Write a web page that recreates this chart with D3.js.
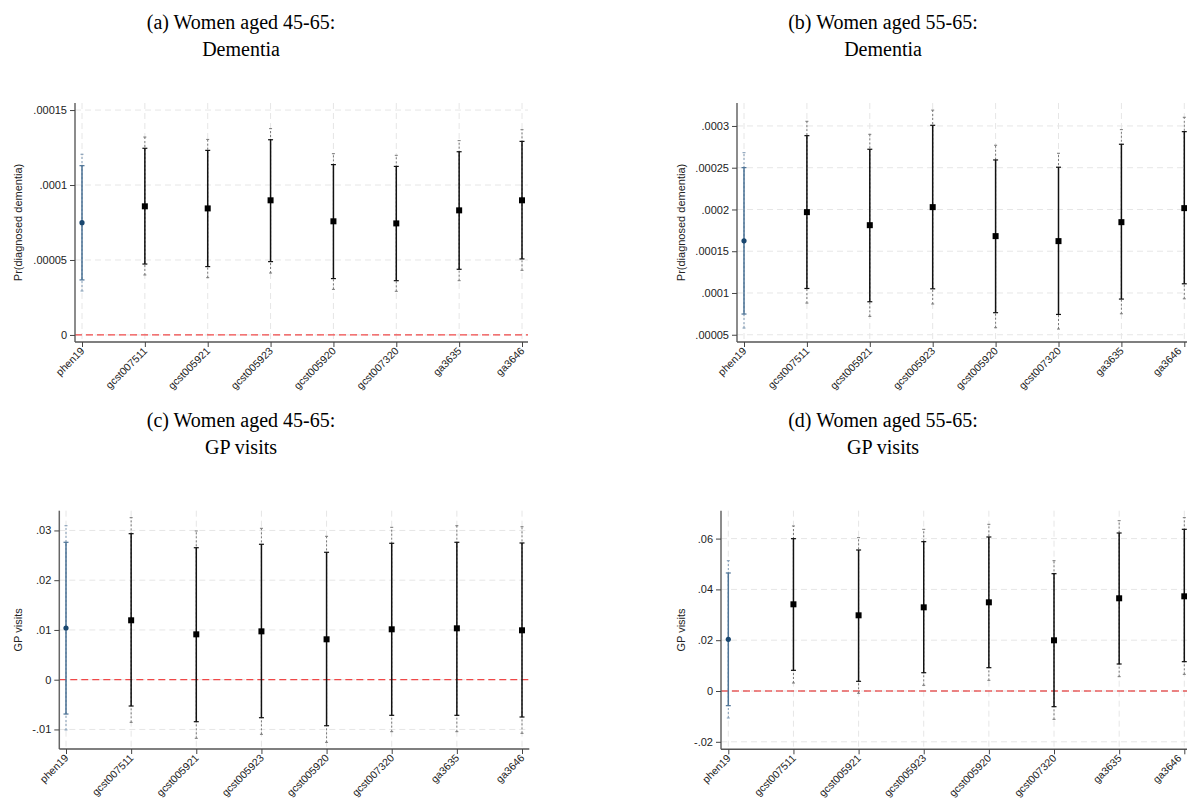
<!DOCTYPE html>
<html>
<head>
<meta charset="utf-8">
<script src="https://cdn.jsdelivr.net/npm/d3@7"></script>
<style>
  body { margin: 0; background: #fff; }
  svg { display: block; }
  .title { font-family: "Liberation Serif", "Times New Roman", serif; font-size: 20px; fill: #000; }
  .tick-label { font-family: "Liberation Sans", Arial, sans-serif; font-size: 11px; fill: #222; }
  .xtick-label { font-family: "Liberation Sans", Arial, sans-serif; font-size: 10.5px; fill: #222; }
  .axis-label { font-family: "Liberation Sans", Arial, sans-serif; font-size: 11px; fill: #222; }
</style>
</head>
<body>
<svg id="chart" width="1187" height="800"></svg>
<script>
const categories = ["phen19", "gcst007511", "gcst005921", "gcst005923", "gcst005920", "gcst007320", "ga3635", "ga3646"];

// (a) women 45-65, dementia
const demYoungEst = [7.49e-5, 8.58e-5, 8.44e-5, 8.98e-5, 7.58e-5, 7.44e-5, 8.31e-5, 8.98e-5];
const demYoungLo = [3.67e-5, 4.73e-5, 4.56e-5, 4.89e-5, 3.76e-5, 3.62e-5, 4.38e-5, 5.07e-5];
const demYoungHi = [1.129e-4, 1.245e-4, 1.231e-4, 1.302e-4, 1.136e-4, 1.124e-4, 1.222e-4, 1.291e-4];
const demYoungLoW = [2.93e-5, 4.0e-5, 3.82e-5, 4.13e-5, 3.04e-5, 2.91e-5, 3.62e-5, 4.31e-5];
const demYoungHiW = [1.205e-4, 1.32e-4, 1.304e-4, 1.376e-4, 1.209e-4, 1.198e-4, 1.296e-4, 1.369e-4];

// (b) women 55-65, dementia
const demOldEst = [1.624e-4, 1.968e-4, 1.812e-4, 2.028e-4, 1.681e-4, 1.621e-4, 1.848e-4, 2.016e-4];
const demOldLo = [7.48e-5, 1.054e-4, 8.95e-5, 1.05e-4, 7.64e-5, 7.43e-5, 9.27e-5, 1.11e-4];
const demOldHi = [2.501e-4, 2.884e-4, 2.721e-4, 3.008e-4, 2.593e-4, 2.506e-4, 2.781e-4, 2.932e-4];
const demOldLoW = [5.8e-5, 8.79e-5, 7.2e-5, 8.68e-5, 5.84e-5, 5.68e-5, 7.51e-5, 9.3e-5];
const demOldHiW = [2.68e-4, 3.056e-4, 2.9e-4, 3.19e-4, 2.769e-4, 2.673e-4, 2.956e-4, 3.104e-4];

// (c) women 45-65, GP visits
const gpYoungEst = [0.01039, 0.01194, 0.00912, 0.00972, 0.00812, 0.01013, 0.01033, 0.00993];
const gpYoungLo = [-0.0069, -0.00529, -0.00844, -0.00764, -0.00925, -0.00716, -0.00716, -0.0075];
const gpYoungHi = [0.02762, 0.02935, 0.02653, 0.02722, 0.02561, 0.02742, 0.02762, 0.02748];
const gpYoungLoW = [-0.0101, -0.00857, -0.01178, -0.01098, -0.01259, -0.01045, -0.01045, -0.01078];
const gpYoungHiW = [0.03095, 0.03257, 0.0299, 0.03043, 0.02882, 0.03063, 0.03095, 0.03075];

// (d) women 55-65, GP visits
const gpOldEst = [0.02035, 0.03413, 0.0298, 0.03294, 0.03491, 0.01996, 0.0365, 0.03728];
const gpOldLo = [-0.00577, 0.00814, 0.00381, 0.0072, 0.00918, -0.00617, 0.01063, 0.01155];
const gpOldHi = [0.04646, 0.05997, 0.05551, 0.05879, 0.06063, 0.04619, 0.0622, 0.06365];
const gpOldLoW = [-0.01063, 0.00315, -0.0009, 0.00224, 0.0042, -0.01115, 0.00564, 0.00656];
const gpOldHiW = [0.0513, 0.06496, 0.06037, 0.06365, 0.06562, 0.0513, 0.06706, 0.06824];

const demYoungTicks = [0, 0.00005, 0.0001, 0.00015];
const demYoungTickLabels = ["0", ".00005", ".0001", ".00015"];
const demOldTicks = [0.00005, 0.0001, 0.00015, 0.0002, 0.00025, 0.0003];
const demOldTickLabels = [".00005", ".0001", ".00015", ".0002", ".00025", ".0003"];
const gpYoungTicks = [-0.01, 0, 0.01, 0.02, 0.03];
const gpYoungTickLabels = ["-.01", "0", ".01", ".02", ".03"];
const gpOldTicks = [-0.02, 0, 0.02, 0.04, 0.06];
const gpOldTickLabels = ["-.02", "0", ".02", ".04", ".06"];

const svg = d3.select("#chart");
const width = +svg.attr("width");

const panels = [
  {
    title: ["(a) Women aged 45-65:", "Dementia"], titleX: 241, titleY: 29,
    ylabel: "Pr(diagnosed dementia)", ylabelX: 18,
    left: 75, right: 528, top: 103, bottom: 342, catL: 82, catR: 522,
    domain: [-4.7e-6, 1.547e-4], ticks: demYoungTicks, tickLabels: demYoungTickLabels,
    est: demYoungEst, lo: demYoungLo, hi: demYoungHi, loW: demYoungLoW, hiW: demYoungHiW,
    zeroColor: "#f04848"
  },
  {
    title: ["(b) Women aged 55-65:", "Dementia"], titleX: 883, titleY: 29,
    ylabel: "Pr(diagnosed dementia)", ylabelX: 681,
    left: 737, right: 1192, top: 103, bottom: 342, catL: 744, catR: 1184.3,
    domain: [4.13e-5, 3.275e-4], ticks: demOldTicks, tickLabels: demOldTickLabels,
    est: demOldEst, lo: demOldLo, hi: demOldHi, loW: demOldLoW, hiW: demOldHiW,
    zeroColor: null
  },
  {
    title: ["(c) Women aged 45-65:", "GP visits"], titleX: 241, titleY: 427,
    ylabel: "GP visits", ylabelX: 18,
    left: 59.3, right: 529.3, top: 510.7, bottom: 749, catL: 66, catR: 522,
    domain: [-0.01393, 0.03397], ticks: gpYoungTicks, tickLabels: gpYoungTickLabels,
    est: gpYoungEst, lo: gpYoungLo, hi: gpYoungHi, loW: gpYoungLoW, hiW: gpYoungHiW,
    zeroColor: "#f04848"
  },
  {
    title: ["(d) Women aged 55-65:", "GP visits"], titleX: 883, titleY: 427,
    ylabel: "GP visits", ylabelX: 681,
    left: 721, right: 1192, top: 510.7, bottom: 749.3, catL: 728.3, catR: 1184.3,
    domain: [-0.02295, 0.07098], ticks: gpOldTicks, tickLabels: gpOldTickLabels,
    est: gpOldEst, lo: gpOldLo, hi: gpOldHi, loW: gpOldLoW, hiW: gpOldHiW,
    zeroColor: "#e01010"
  }
];

const drawPanel = (p) => {
  const g = svg.append("g");

  const x = d3.scalePoint().domain(categories).range([p.catL, p.catR]);
  const y = d3.scaleLinear().domain(p.domain).range([p.bottom, p.top]);

  // title
  g.append("text")
    .attr("class", "title")
    .attr("x", p.titleX)
    .attr("y", p.titleY)
    .attr("text-anchor", "middle")
    .selectAll("tspan")
    .data(p.title)
    .join("tspan")
    .attr("x", p.titleX)
    .attr("dy", (d, i) => (i === 0 ? 0 : 27))
    .text((d) => d);

  // grid
  g.append("g")
    .selectAll("line")
    .data(p.ticks)
    .join("line")
    .attr("x1", p.left)
    .attr("x2", p.right)
    .attr("y1", (d) => y(d))
    .attr("y2", (d) => y(d))
    .attr("stroke", "#e6e6e6")
    .attr("stroke-dasharray", "6,4");

  g.append("g")
    .selectAll("line")
    .data(categories)
    .join("line")
    .attr("x1", (d) => x(d))
    .attr("x2", (d) => x(d))
    .attr("y1", p.top)
    .attr("y2", p.bottom)
    .attr("stroke", "#e6e6e6")
    .attr("stroke-dasharray", "6,4");

  // zero reference line
  if (p.zeroColor) {
    g.append("line")
      .attr("x1", p.left)
      .attr("x2", p.right)
      .attr("y1", y(0))
      .attr("y2", y(0))
      .attr("stroke", p.zeroColor)
      .attr("stroke-width", 1.2)
      .attr("stroke-dasharray", "7,4");
  }

  // y axis
  const yAxis = d3
    .axisLeft(y)
    .tickValues(p.ticks)
    .tickFormat((d, i) => p.tickLabels[i])
    .tickSize(5)
    .tickPadding(3);
  const ya = g.append("g").attr("transform", `translate(${p.left},0)`).call(yAxis);
  ya.select(".domain").attr("d", `M0,${p.top}V${p.bottom}`).attr("stroke", "#666").attr("stroke-width", 1.5);
  ya.selectAll(".tick line").attr("stroke", "#444");
  ya.selectAll(".tick text").attr("class", "tick-label").attr("fill", "#222");

  // x axis
  const xAxis = d3.axisBottom(x).tickSize(5).tickPadding(3);
  const xa = g.append("g").attr("transform", `translate(0,${p.bottom})`).call(xAxis);
  xa.select(".domain").attr("d", `M${p.left},0H${p.right}`).attr("stroke", "#555").attr("stroke-width", 1.5);
  xa.selectAll(".tick line").attr("stroke", "#444");
  xa.selectAll(".tick text")
    .attr("class", "xtick-label")
    .attr("fill", "#222")
    .attr("text-anchor", "end")
    .attr("x", 0)
    .attr("y", 0)
    .attr("dy", "0.35em")
    .attr("transform", (d) => {
      // keep labels at the right edge inside the window
      const dx = Math.min(0, width - 8 - x(d));
      return `translate(${dx},7) rotate(-45)`;
    });

  // y axis label
  g.append("text")
    .attr("class", "axis-label")
    .attr("transform", `translate(${p.ylabelX},${(p.top + p.bottom) / 2}) rotate(-90)`)
    .attr("text-anchor", "middle")
    .attr("dy", "0.35em")
    .text(p.ylabel);

  const rows = categories.map((c, i) => ({
    cat: c, i, est: p.est[i], lo: p.lo[i], hi: p.hi[i], loW: p.loW[i], hiW: p.hiW[i]
  }));
  const colorOf = (d) => (d.i === 0 ? "#1a476f" : "#000");
  const wideOf = (d) => (d.i === 0 ? "#7f99b3" : "#777");

  const bars = g.append("g").selectAll("g").data(rows).join("g");

  // wider interval, dotted
  bars.append("line")
    .attr("x1", (d) => x(d.cat))
    .attr("x2", (d) => x(d.cat))
    .attr("y1", (d) => y(d.loW))
    .attr("y2", (d) => y(d.hiW))
    .attr("stroke", wideOf)
    .attr("stroke-width", 1)
    .attr("stroke-dasharray", "2,2");
  ["loW", "hiW"].forEach((k) => {
    bars.append("line")
      .attr("x1", (d) => x(d.cat) - 1.5)
      .attr("x2", (d) => x(d.cat) + 1.5)
      .attr("y1", (d) => y(d[k]))
      .attr("y2", (d) => y(d[k]))
      .attr("stroke", wideOf)
      .attr("stroke-width", 1);
  });

  // main interval
  bars.append("line")
    .attr("x1", (d) => x(d.cat))
    .attr("x2", (d) => x(d.cat))
    .attr("y1", (d) => y(d.lo))
    .attr("y2", (d) => y(d.hi))
    .attr("stroke", (d) => (d.i === 0 ? "#4d7396" : "#111"))
    .attr("stroke-width", 1.5);
  ["lo", "hi"].forEach((k) => {
    bars.append("line")
      .attr("x1", (d) => x(d.cat) - 2.5)
      .attr("x2", (d) => x(d.cat) + 2.5)
      .attr("y1", (d) => y(d[k]))
      .attr("y2", (d) => y(d[k]))
      .attr("stroke", (d) => (d.i === 0 ? "#4d7396" : "#111"))
      .attr("stroke-width", 1.2);
  });

  // markers
  bars.filter((d) => d.i === 0)
    .append("circle")
    .attr("cx", (d) => x(d.cat))
    .attr("cy", (d) => y(d.est))
    .attr("r", 2.6)
    .attr("fill", colorOf);
  bars.filter((d) => d.i !== 0)
    .append("rect")
    .attr("x", (d) => x(d.cat) - 3)
    .attr("y", (d) => y(d.est) - 3)
    .attr("width", 6)
    .attr("height", 6)
    .attr("fill", colorOf);
};

panels.forEach(drawPanel);
</script>
</body>
</html>
